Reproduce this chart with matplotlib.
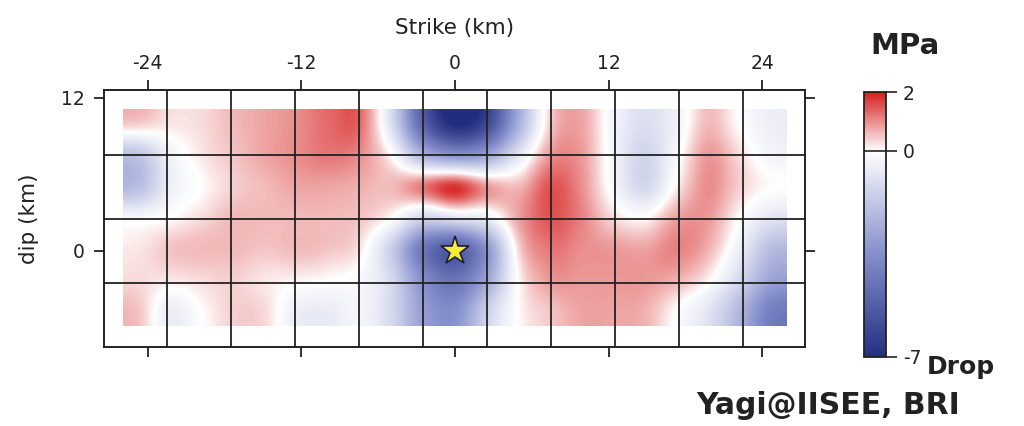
import numpy as np
import matplotlib
matplotlib.use("Agg")
import matplotlib.pyplot as plt
from matplotlib.colors import LinearSegmentedColormap

plt.rcParams['font.family'] = ['DejaVu Sans']

# ---- data (stress drop, MPa), rows top (y=11 km) -> bottom (y=-6 km)
row0 = [0.4, 0.2, 0.3, 0.6, 0.8, 1.0, 1.3, 1.3, -1.0, -5.0, -7.0, -6.0, -2.5, 0.4, 0.8, -0.3, -1.0, -0.4, 0.6, 0.0, -0.5]
row1 = [-1.8, -0.4, 0.2, 0.5, 0.8, 1.0, 1.2, 1.0, 0.0, -2.3, -3.3, -2.8, -0.8, 0.9, 0.9, -0.3, -1.3, -0.2, 0.9, 0.3, -0.3]
row2 = [-2.0, -0.5, 0.0, 0.4, 0.6, 0.8, 0.8, 0.7, 0.6, 1.2, 1.8, 0.9, 0.6, 1.5, 1.0, -0.2, -1.2, 0.1, 1.0, 0.4, 0.0]
row3 = [-0.2, 0.0, 0.3, 0.6, 0.6, 0.6, 0.6, 0.5, 0.0, -1.2, -0.8, -0.5, 0.8, 1.5, 1.1, 0.3, 0.0, 0.8, 0.9, 0.0, -0.8]
row4 = [0.2, 0.5, 0.6, 0.6, 0.5, 0.6, 0.5, 0.2, -1.5, -4.3, -5.3, -3.3, 0.3, 1.2, 1.0, 0.9, 0.8, 1.1, 0.7, -0.5, -2.0]
row5 = [0.3, 0.2, 0.3, 0.4, 0.2, 0.1, 0.0, -0.2, -1.2, -3.5, -4.5, -2.8, 0.0, 0.9, 0.9, 0.9, 0.9, 0.7, 0.1, -1.2, -2.8]
row6 = [0.5, -0.5, 0.0, 0.4, 0.3, -0.5, -0.6, -0.3, -1.2, -3.0, -3.5, -1.5, 0.0, 0.5, 0.8, 0.8, 0.7, 0.0, -0.8, -2.2, -4.0]

strike_ticks = [-24, -12, 0, 12, 24]
dip_ticks = [0, 12]
cbar_ticks = [-7, 0, 2]
hypocenter_x = [0.0]
hypocenter_y = [0.0]

vmin, vmax = -7, 2
field_extent = [-25.9, 25.9, -5.9, 11.1]

# ---- figure
fig = plt.figure(figsize=(10.24, 4.26), dpi=100)
ax = fig.add_axes([0.1016, 0.1854, 0.6846, 0.6033])

z0 = (0 - vmin) / (vmax - vmin)
cmap = LinearSegmentedColormap.from_list('drop', [
    (0.0, (0.14, 0.18, 0.50)),
    (0.5 * z0, (0.52, 0.56, 0.80)),
    (z0, (1.0, 1.0, 1.0)),
    (1.0, (0.84, 0.12, 0.12))])

field = np.array([row0, row1, row2, row3, row4, row5, row6])
im = ax.imshow(field, cmap=cmap, vmin=vmin, vmax=vmax, extent=field_extent,
               origin='upper', interpolation='catrom', interpolation_stage='data',
               aspect='auto', zorder=1)

ax.set_xlim(-27.4, 27.35)
ax.set_ylim(-7.55, 12.62)

for gx in np.arange(-22.5, 23, 5):
    ax.axvline(gx, color='#222222', lw=1.3, zorder=3)
for gy in np.arange(-2.5, 8, 5):
    ax.axhline(gy, color='#222222', lw=1.3, zorder=3)

ax.plot(hypocenter_x, hypocenter_y, marker='*', ms=21, mfc='#f5ec3a',
        mec='#1a1f3a', mew=1.2, ls='none', zorder=5)

ax.set_xticks(strike_ticks)
ax.set_yticks(dip_ticks)
ax.tick_params(axis='x', top=True, bottom=True, labeltop=True, labelbottom=False,
               direction='out', length=7, width=1.3, labelsize=13.5, pad=5, colors='#222222')
ax.tick_params(axis='y', left=True, right=True, labelleft=True, direction='out',
               length=7, width=1.3, labelsize=13.5, pad=7, colors='#222222')
ax.set_xticklabels([str(t) for t in strike_ticks])
ax.set_yticklabels([str(t) for t in dip_ticks])
ax.xaxis.set_label_position('top')
ax.set_xlabel('Strike (km)', fontsize=15.5, labelpad=15, color='#222222')
ax.set_ylabel('dip (km)', fontsize=15.5, labelpad=16, color='#222222')
for sp in ax.spines.values():
    sp.set_linewidth(1.4)
    sp.set_color('#222222')

# ---- colorbar
cax = fig.add_axes([0.8438, 0.162, 0.0215, 0.622])
cb = fig.colorbar(im, cax=cax, ticks=cbar_ticks)
cb.set_ticklabels([str(t) for t in cbar_ticks])
cb.outline.set_linewidth(1.3)
cb.outline.set_edgecolor('#222222')
cax.tick_params(direction='out', length=8, width=1.2, labelsize=13.5, pad=4, colors='#222222')
cax.axhline(0, color='#222222', lw=1.2)

fig.text(0.884, 0.893, 'MPa', fontsize=21, fontweight='bold', ha='center', va='center', color='#222222')
fig.text(0.905, 0.138, 'Drop', fontsize=18, fontweight='bold', ha='left', va='center', color='#222222')
fig.text(0.809, 0.048, 'Yagi@IISEE, BRI', fontsize=21.5, fontweight='bold', ha='center', va='center', color='#222222')

fig.savefig('out.png', dpi=100)
